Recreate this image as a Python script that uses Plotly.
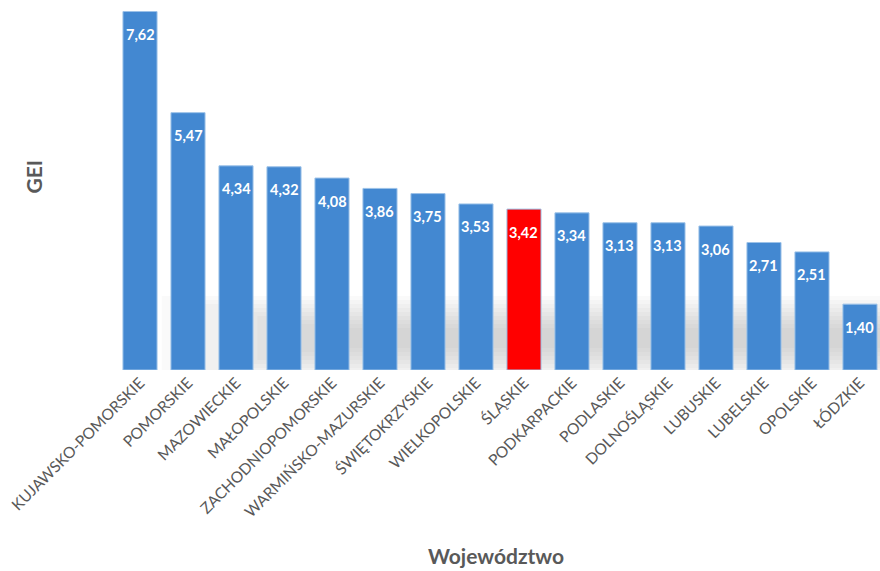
import plotly.graph_objects as go

regions = ["KUJAWSKO-POMORSKIE", "POMORSKIE", "MAZOWIECKIE", "MAŁOPOLSKIE",
           "ZACHODNIOPOMORSKIE", "WARMIŃSKO-MAZURSKIE", "ŚWIĘTOKRZYSKIE",
           "WIELKOPOLSKIE", "ŚLĄSKIE", "PODKARPACKIE", "PODLASKIE",
           "DOLNOŚLĄSKIE", "LUBUSKIE", "LUBELSKIE", "OPOLSKIE", "ŁÓDZKIE"]
gei = [7.62, 5.47, 4.34, 4.32, 4.08, 3.86, 3.75, 3.53, 3.42, 3.34, 3.13,
       3.13, 3.06, 2.71, 2.51, 1.40]
highlight = "ŚLĄSKIE"

blue = "#4388d1"
red = "#ff0000"
colors = [red if r == highlight else blue for r in regions]
labels = [f"{v:.2f}".replace(".", ",") for v in gei]

fig = go.Figure()
fig.add_trace(go.Bar(
    x=list(range(len(regions))), y=gei,
    marker=dict(color=colors, line=dict(color="#9cc2e8", width=1)),
    hoverinfo="skip",
))

# value labels inside top of bars
for i, (v, t) in enumerate(zip(gei, labels)):
    fig.add_annotation(x=i, y=v, text=f"<b>{t}</b>", showarrow=False,
                       yshift=-23, font=dict(color="white", size=14.5, family="Lato"))

# soft shadow band behind the bars (plot area: 366 px tall, bottom at 0)
H = 366.0
def py(px_above_base):
    return max(px_above_base, 0) / H

n = 9
for k in range(n):
    half = 42 - k * 4
    centre = 32
    fig.add_shape(type="rect", xref="paper", yref="paper",
                  x0=0.06 + k * 0.025, x1=1.0,
                  y0=py(centre - half), y1=py(centre + half),
                  layer="below", line=dict(width=0),
                  fillcolor="rgba(110,110,110,0.035)")

fig.update_layout(
    width=880, height=571,
    margin=dict(l=116, r=0, t=4, b=201),
    plot_bgcolor="white", paper_bgcolor="white",
    bargap=0.29, showlegend=False,
    font=dict(family="Lato", color="#595959"),
    xaxis=dict(tickmode="array", tickvals=list(range(len(regions))), ticktext=regions,
               tickangle=-45, tickfont=dict(size=15.5, color="#595959", family="Lato"),
               range=[-0.5, 15.417], showline=False, showgrid=False, zeroline=False,
               ticks="", automargin=False),
    yaxis=dict(range=[0, 7.78], showticklabels=False, showgrid=False, zeroline=False,
               showline=False, ticks=""),
)

fig.add_annotation(xref="paper", yref="paper", x=-0.127, y=0.53, text="<b>GEI</b>",
                   textangle=-90, showarrow=False,
                   font=dict(size=21, color="#595959", family="Lato"))
fig.add_annotation(xref="paper", yref="paper", x=0.497, y=-0.508, text="<b>Województwo</b>",
                   showarrow=False, yanchor="middle",
                   font=dict(size=21, color="#595959", family="Lato"))

fig.write_html("out.html")
